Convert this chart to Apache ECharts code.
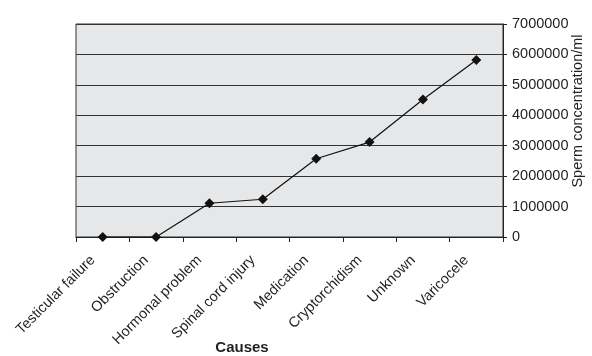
<!DOCTYPE html>
<html>
<head>
<meta charset="utf-8">
<script src="https://cdn.jsdelivr.net/npm/echarts@6/dist/echarts.min.js"></script>
<style>html,body{margin:0;padding:0;background:#fff}#c{width:592px;height:356px}</style>
</head>
<body>
<div id="c"></div>
<script>
var categories = ['Testicular failure','Obstruction','Hormonal problem','Spinal cord injury','Medication','Cryptorchidism','Unknown','Varicocele'];
var concentration = [0, 0, 1110000, 1240000, 2570000, 3120000, 4520000, 5820000];
var yTickLabels = ['0','1000000','2000000','3000000','4000000','5000000','6000000','7000000'];
var xTitle = 'Causes';
var yTitle = 'Sperm concentration/ml';

var FONT = '"Liberation Sans", Arial, sans-serif';
var TXT = '#231f20';
var chart = echarts.init(document.getElementById('c'));
chart.setOption({
  animation: false,
  grid: {left: 76, right: 89, top: 24, bottom: 119, show: true, backgroundColor: '#e6e7e9', borderColor: '#333', borderWidth: 1, containLabel: false, outerBoundsMode: 'none'},
  xAxis: {
    type: 'category', data: categories, boundaryGap: true,
    axisLine: {lineStyle: {color: '#222', width: 1}},
    axisTick: {show: true, length: 5, lineStyle: {color: '#222'}},
    axisLabel: {rotate: 45, margin: 11, padding: [0, 14, 0, 0], interval: 0, fontFamily: FONT, fontSize: 14.5, color: TXT},
    splitLine: {show: false}
  },
  yAxis: {
    type: 'value', position: 'right', min: 0, max: 7000000, interval: 1000000,
    axisLine: {show: true, lineStyle: {color: '#222', width: 1}},
    axisTick: {show: true, length: 4, lineStyle: {color: '#222'}},
    axisLabel: {margin: 9, fontFamily: FONT, fontSize: 14.5, color: TXT,
      formatter: function (v) { return yTickLabels[Math.round(v / 1000000)]; }},
    splitLine: {show: true, lineStyle: {color: '#333', width: 1}}
  },
  graphic: [
    {type: 'text', position: [242, 348], style: {text: xTitle, x: 0, y: 0, align: 'center', verticalAlign: 'middle', font: 'bold 15px ' + FONT, fill: TXT}},
    {type: 'text', position: [578, 111], rotation: Math.PI / 2, style: {text: yTitle, x: 0, y: 0, align: 'center', verticalAlign: 'middle', font: '14.5px ' + FONT, fill: TXT}}
  ],
  series: [{
    type: 'line', data: concentration,
    symbol: 'diamond', symbolSize: 10,
    itemStyle: {color: '#111'},
    lineStyle: {color: '#111', width: 1.2}
  }]
});
</script>
</body>
</html>
